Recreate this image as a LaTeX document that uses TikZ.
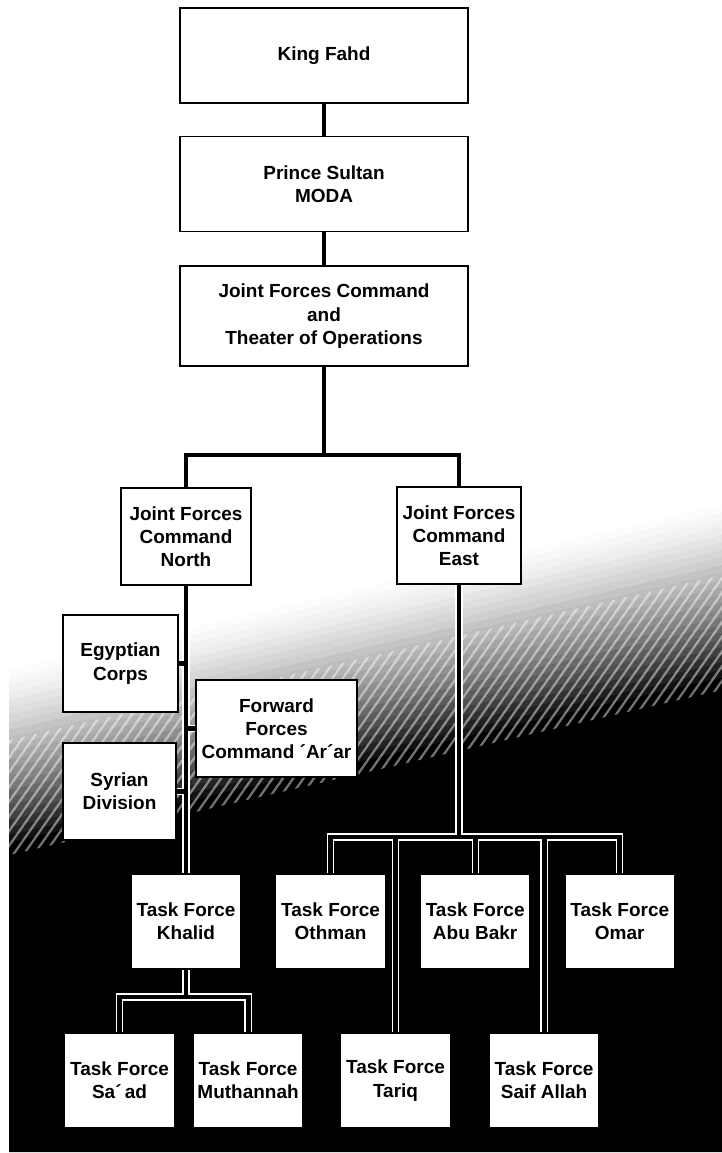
\documentclass[tikz,border=0pt]{standalone}
\usepackage{fontspec}
\setmainfont{Liberation Sans}
\usetikzlibrary{backgrounds,positioning,patterns.meta}
\tikzset{
  link/.style={draw=white, line width=0.85pt, double=black, double distance=3.5pt},
  box/.style={
    draw=black,
    line width=1.1pt,
    fill=white,
    align=center,
    inner sep=0pt,
    font=\fontsize{13.5}{16.5}\selectfont\bfseries
  },
  topbox/.style={box, minimum width=7.2cm, minimum height=2.375cm},
  midbox/.style={box, minimum height=2.425cm},
  tfbox/.style={box, minimum width=2.75cm, minimum height=2.375cm}
}

\begin{document}
\begin{tikzpicture}[x=0.025cm, y=-0.025cm]
  \useasboundingbox (0,0) rectangle (722,1153);

  \node[topbox] (king) at (324,55.5) {King Fahd};
  \node[topbox, below=0.8cm of king] (sultan) {Prince Sultan\\MODA};
  \node[topbox, below=0.825cm of sultan, minimum height=2.5cm] (jfc) {Joint Forces Command\\and\\Theater of Operations};

  \node[midbox, minimum width=3.25cm] (north) at (186,536.5) {Joint Forces\\Command\\North};
  \node[midbox, minimum width=3.1cm] (east) at (459,535.5) {Joint Forces\\Command\\East};
  \node[midbox, minimum width=2.875cm] (egypt) at (120.5,663.5) {Egyptian\\Corps};
  \node[midbox, minimum width=4.025cm] (forward) at (276.5,728.5) {Forward\\Forces\\Command ´Ar´ar};
  \node[midbox, minimum width=2.825cm] (syria) at (119.5,791.5) {Syrian\\Division};

  \node[tfbox] (khalid) at (186,921.5) {Task Force\\Khalid};
  \node[tfbox, right=0.825cm of khalid] (othman) {Task Force\\Othman};
  \node[tfbox, right=0.825cm of othman] (abubakr) {Task Force\\Abu Bakr};
  \node[tfbox, right=0.825cm of abubakr] (omar) {Task Force\\Omar};

  \node[tfbox] (saad) at (119.5,1080.5) {Task Force\\Sa´\,ad};
  \node[tfbox, right=0.425cm of saad] (muthannah) {Task Force\\Muthannah};
  \node[tfbox] (tariq) at (395.5,1080.5) {Task Force\\Tariq};
  \node[tfbox, right=0.925cm of tariq] (saif) {Task Force\\Saif Allah};

  \coordinate (split) at (324,455);
  \coordinate (eastbus) at (459,837);
  \coordinate (khalidbus) at (186,997);

  \begin{scope}[on background layer]
    % paper, darkening towards the bottom
    \fill[white] (0,0) rectangle (722,1153);
    \foreach \i [evaluate=\i as \p using {int(100*(\i/25)^1.6)}] in {0,...,25}
      \fill[black!\p] (9,655+7.5*\i) -- (722,490+7.5*\i) -- (722,498+7.5*\i) -- (9,663+7.5*\i) -- cycle;
    \fill[black] (9,848) -- (722,683) -- (722,1152) -- (9,1152) -- cycle;
    \fill[pattern={Lines[angle=55, distance=6pt, line width=1.6pt]}, pattern color=white, opacity=0.45]
      (9,740) -- (722,575) -- (722,690) -- (9,855) -- cycle;

    \draw[link] (king) -- (sultan) (sultan) -- (jfc) (jfc) -- (split)
      (north.north) |- (split) -| (east.north);
    \draw[link] (north) -- (khalid) (egypt) -- (egypt -| north)
      (forward) -- (forward -| north) (syria) -- (syria -| north);
    \draw[link] (east) -- (east |- eastbus)
      (othman.north) |- (eastbus) -| (omar.north)
      (abubakr.north) -- (abubakr.north |- eastbus)
      (tariq.north) -- (tariq.north |- eastbus)
      (saif.north) -- (saif.north |- eastbus);
    \draw[link] (khalid) -- (khalidbus)
      (saad.north) |- (khalidbus) -| (muthannah.north);
  \end{scope}
\end{tikzpicture}
\end{document}
